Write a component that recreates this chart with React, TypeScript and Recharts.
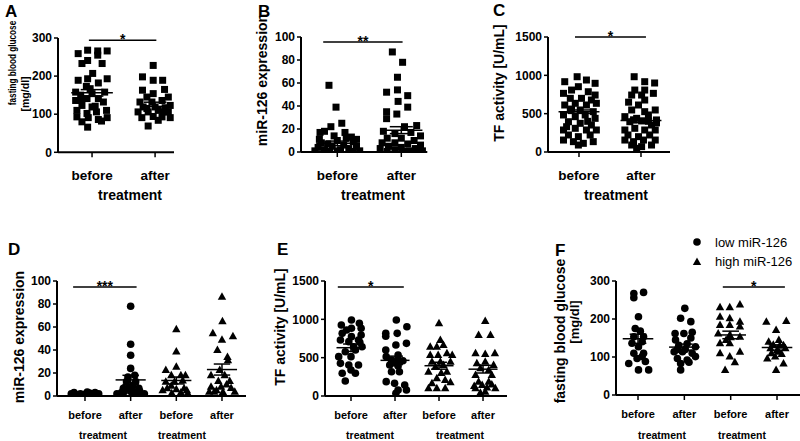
import React from 'react';
import { ScatterChart, Scatter, XAxis, YAxis, ReferenceLine } from 'recharts';

const FONT = '"Liberation Sans", Arial, Helvetica, sans-serif';
const groupLabels = ['before', 'after'];

type Pt = [number, number]; // [horizontal jitter within the group, value]

// A: fasting blood glucose, all patients
const aBefore: Pt[] = [[-0.22,259],[-0.07,268],[0.09,266],[0.09,255],[0.24,266],[-0.16,233],[-0.07,241],[0.16,233],[0.01,207],[-0.22,189],[-0.07,193],[0.24,193],[0.1,182],[-0.09,173],[-0.26,158],[-0.18,150],[0.2,158],[-0.26,136],[0.0,154],[-0.08,141],[0.1,141],[-0.16,123],[0.0,119],[0.18,132],[0.23,110],[-0.24,110],[-0.08,102],[0.07,106],[-0.24,93],[-0.06,91],[0.1,86],[0.24,91],[-0.16,80],[0.15,82],[-0.07,66],[0.05,121],[-0.03,167],[-0.17,136]];
const aAfter: Pt[] = [[-0.03,228],[-0.2,198],[-0.03,189],[0.12,189],[-0.2,163],[0.15,165],[-0.03,154],[-0.13,145],[0.21,145],[-0.24,132],[-0.05,132],[0.11,136],[0.24,123],[-0.19,119],[0.0,119],[0.16,117],[-0.27,106],[-0.11,106],[0.05,110],[0.21,106],[-0.21,91],[-0.03,94],[0.11,93],[0.24,91],[-0.11,69],[0.05,84],[-0.13,115],[0.13,106]];
const aMeans = [156, 126];
const aSems = [8.5, 5.5];

// B: miR-126 expression, all patients
const bBefore: Pt[] = [[-0.13,58],[-0.02,39],[0.07,25],[-0.1,22],[-0.27,17],[-0.2,18],[0.22,13],[0.14,12],[-0.05,14],[0.0,10],[-0.25,8],[0.25,9],[-0.15,7],[0.1,6],[0.3,5],[-0.3,4],[-0.08,5],[0.18,3],[-0.2,2],[0.05,2],[-0.35,1],[0.35,1],[0.0,1],[-0.12,0.5],[0.25,0.5],[-0.28,11],[0.12,17],[0.3,11]];
const bAfter: Pt[] = [[-0.14,87],[0.02,78],[-0.06,65],[-0.23,52],[-0.06,54],[0.1,49],[-0.05,44],[0.1,39],[-0.23,35],[-0.07,33],[-0.23,29],[0.24,23],[0.05,22],[-0.28,18],[0.15,17],[-0.1,16],[0.3,14],[-0.22,12],[0.0,12],[0.2,10],[-0.3,8],[-0.1,8],[0.1,7],[0.3,6],[-0.2,5],[0.0,4],[0.22,3],[-0.33,3],[-0.1,2],[0.12,1],[0.33,1],[-0.22,0.5],[0.02,0.5],[0.25,0.5]];
const bMeans = [7.5, 19];
const bSems = [2, 3];

// C: TF activity, all patients
const cBefore: Pt[] = [[-0.03,982],[0.12,939],[-0.23,917],[0.26,896],[-0.12,808],[-0.01,852],[0.15,786],[-0.25,765],[0.26,743],[-0.14,700],[0.04,700],[0.2,678],[-0.23,613],[-0.06,635],[0.12,613],[0.28,635],[-0.14,548],[0.02,548],[0.23,526],[-0.25,483],[-0.06,461],[0.1,483],[0.26,439],[-0.17,395],[0.02,374],[0.2,352],[-0.25,287],[-0.06,309],[0.12,287],[0.28,287],[-0.17,222],[-0.01,200],[0.18,222],[-0.25,156],[-0.09,135],[0.07,113],[0.23,135],[-0.01,91],[-0.12,560],[0.14,400],[-0.2,330]];
const cAfter: Pt[] = [[-0.11,982],[0.06,917],[-0.1,808],[0.06,808],[0.2,765],[-0.15,743],[0.01,743],[0.06,678],[-0.04,613],[-0.15,548],[0.06,526],[0.23,548],[-0.26,461],[-0.07,439],[0.12,483],[0.25,418],[-0.18,395],[0.01,405],[0.17,352],[-0.26,287],[-0.1,309],[0.06,287],[0.23,287],[-0.21,222],[-0.04,200],[0.14,222],[-0.26,156],[-0.12,135],[0.04,156],[0.23,156],[-0.15,91],[0.01,70],[0.17,91],[-0.07,48],[0.12,400],[-0.12,420],[0.25,380],[-0.2,650],[0.22,900]];
const cMeans = [526, 410];
const cSems = [22, 28];

// D: miR-126 expression, low vs high miR-126
const dBeforeLow: Pt[] = [[-0.24,3],[-0.1,2],[0.0,1.5],[0.1,2.5],[0.22,3],[-0.15,1],[0.15,1.2],[0.05,3.5],[-0.3,2],[0.3,2]];
const dAfterLow: Pt[] = [[0,78],[0,45],[0,35.5],[0,24],[0.09,18],[-0.06,16.5],[-0.09,12.5],[0.11,12.5],[-0.16,6.7],[-0.05,7],[0.18,6.7],[-0.14,3.8],[0.01,3.8],[0.2,4],[-0.2,3],[0.11,3],[-0.3,2],[0.3,2],[0.05,9]];
const dBeforeHigh: Pt[] = [[0,58],[0,38.6],[0,25.5],[-0.23,22.6],[-0.11,18],[0.1,18],[0.2,18],[-0.23,12.4],[-0.04,12.4],[0.14,13.5],[-0.2,6.7],[0,5.8],[0.17,6.7],[-0.3,5],[0.23,5],[-0.11,9],[0.1,3],[-0.1,2.5],[0.25,2.5]];
const dAfterHigh: Pt[] = [[0,86.4],[0.01,65],[-0.2,54.5],[0,49],[0.24,52],[-0.1,40],[0.12,34],[0.13,31],[-0.05,22.6],[-0.24,18],[0.06,18],[-0.08,13],[0.17,13],[-0.24,8],[-0.02,8],[0.2,7],[-0.17,3.8],[0.02,3.5],[0.28,3.8],[-0.28,3.8],[0.1,10],[-0.12,5]];
const dMeans = [2.3, 14, 13.5, 23];
const dSems = [0.3, 4, 3, 4.8];

// E: TF activity, low vs high miR-126
const eBeforeLow: Pt[] = [[-0.22,926],[0.01,991],[0.19,948],[0.01,883],[0.23,883],[-0.2,817],[0.01,774],[0.23,795],[-0.24,730],[-0.05,709],[0.17,730],[0.06,643],[0.25,643],[-0.13,578],[0.1,600],[-0.28,513],[0.0,513],[-0.24,426],[-0.05,404],[0.17,404],[-0.2,296],[0.1,296],[0.0,340],[-0.13,196],[0.2,700],[-0.1,860]];
const eAfterLow: Pt[] = [[0.03,991],[-0.21,817],[0.05,817],[0.27,904],[-0.21,780],[0.26,687],[0.02,665],[-0.21,600],[0.07,535],[-0.2,513],[0.07,470],[-0.08,470],[0.18,460],[-0.12,404],[0.07,390],[-0.08,317],[0.1,317],[-0.2,187],[-0.01,165],[0.22,143],[0.07,78],[0.26,78],[0.02,35],[0.0,430]];
const eBeforeHigh: Pt[] = [[0,948],[0.03,730],[-0.2,643],[-0.05,643],[0.1,665],[0.18,557],[-0.2,535],[-0.02,535],[0.3,535],[-0.16,448],[0.03,448],[0.26,448],[-0.08,383],[0.1,404],[-0.24,317],[0.18,317],[-0.05,230],[0.14,210],[-0.16,165],[0.26,180],[-0.24,100],[-0.05,100],[0.14,100],[0.05,300]];
const eAfterHigh: Pt[] = [[0.05,978],[-0.1,795],[0.17,795],[-0.17,557],[0.05,548],[0.27,557],[-0.14,426],[0.05,448],[0.24,404],[-0.06,361],[0.13,340],[-0.17,274],[0.2,274],[-0.1,187],[0.13,187],[-0.02,143],[0.09,110],[-0.17,100],[0.28,100],[0.05,56],[-0.06,43],[0.2,150],[-0.2,130]];
const eMeans = [630, 465, 395, 350];
const eSems = [48, 55, 45, 50];

// F: fasting blood glucose, low vs high miR-126
const fBeforeLow: Pt[] = [[-0.09,267],[0.12,270],[-0.09,256],[0.01,206],[-0.06,175],[0.05,168],[-0.09,153],[0.12,153],[-0.13,136],[0.09,140],[0.01,127],[-0.09,110],[0.12,110],[0.09,101],[-0.02,96],[-0.2,83],[0.16,88],[0.01,66],[0.23,66]];
const fAfterLow: Pt[] = [[0.01,228],[-0.08,202],[0.14,193],[-0.2,162],[-0.01,162],[0.17,165],[-0.19,145],[0.14,150],[-0.12,131],[0.06,135],[0.24,127],[-0.22,114],[-0.04,114],[0.17,110],[-0.15,96],[0.06,92],[0.24,101],[-0.08,83],[0.1,86],[-0.08,66],[0.02,120],[-0.15,120]];
const fBeforeHigh: Pt[] = [[-0.23,231],[-0.02,231],[0.2,238],[-0.23,206],[-0.02,202],[0.2,193],[-0.23,184],[-0.02,184],[0.2,180],[-0.27,162],[-0.02,158],[0.2,153],[-0.23,136],[-0.02,136],[-0.23,110],[0.2,114],[-0.02,101],[0.09,86],[-0.12,66],[0.0,152],[-0.1,145]];
const fAfterHigh: Pt[] = [[-0.23,193],[0.2,195],[-0.02,171],[-0.18,140],[0.04,145],[0.14,131],[-0.14,123],[0.0,118],[0.18,123],[-0.21,96],[-0.04,101],[0.04,114],[0.14,83],[-0.02,66],[0.06,130],[-0.08,132],[0.1,108],[-0.12,110]];
const fMeans = [148, 126, 158, 125];
const fSems = [12, 8, 10, 7];

const toPoints = (pts: Pt[], pos: number) => pts.map(([dx, v]) => ({ x: pos + dx, y: v }));

const Square = (p: any) => <rect x={p.cx - 3.5} y={p.cy - 3.5} width={7} height={7} fill="#000" />;
const Dot = (p: any) => <circle cx={p.cx} cy={p.cy} r={3.8} fill="#000" />;
const Tri = (p: any) => (
  <polygon points={`${p.cx},${p.cy - 4.5} ${p.cx + 4.2},${p.cy + 3} ${p.cx - 4.2},${p.cy + 3}`} fill="#000" />
);

function SigLabel({ viewBox, text }: any) {
  const { x, y, width } = viewBox;
  return (
    <text x={x + width / 2} y={y + 4} textAnchor="middle" fontSize={14} fontWeight="bold" fontFamily={FONT} fill="#000">
      {text}
    </text>
  );
}

interface PanelProps {
  box: [number, number, number, number]; // plot left, right, top, bottom in page px
  xDomain: [number, number];
  yDomain: [number, number];
  yTicks: number[];
  groups: { pts: Pt[]; shape: any }[];
  means: number[];
  sems: number[];
  sig: { from: number; to: number; y: number; text: string };
  xFont: number;
  xMargin: number;
}

function Panel({ box, xDomain, yDomain, yTicks, groups, means, sems, sig, xFont, xMargin }: PanelProps) {
  const [x0, x1, y0, y1] = box;
  const ML = 50, MT = 25, MR = 12, XH = 32;
  const ticks = groups.map((_, i) => i + 1);
  const seg = (xa: number, xb: number, ya: number, yb: number) => [{ x: xa, y: ya }, { x: xb, y: yb }];
  return (
    <div style={{ position: 'absolute', left: x0 - ML, top: y0 - MT }}>
      <ScatterChart
        width={x1 - x0 + ML + MR}
        height={y1 - y0 + MT + XH}
        margin={{ top: MT, right: MR, bottom: 0, left: ML - 40 }}
      >
        <XAxis
          type="number"
          dataKey="x"
          domain={xDomain}
          ticks={ticks}
          interval={0}
          allowDataOverflow
          height={XH}
          tickFormatter={(v) => groupLabels[(v - 1) % 2]}
          axisLine={{ stroke: '#000', strokeWidth: 2 }}
          tickLine={{ stroke: '#000', strokeWidth: 1.5 }}
          tickSize={5}
          tickMargin={xMargin}
          tick={{ fill: '#000', fontSize: xFont, fontWeight: 'bold', fontFamily: FONT }}
        />
        <YAxis
          type="number"
          dataKey="y"
          domain={yDomain}
          ticks={yTicks}
          interval={0}
          allowDataOverflow
          width={40}
          axisLine={{ stroke: '#000', strokeWidth: 2 }}
          tickLine={{ stroke: '#000', strokeWidth: 1.5 }}
          tickSize={4}
          tickMargin={2}
          tick={{ fill: '#000', fontSize: 12, fontWeight: 'bold', fontFamily: FONT }}
        />
        {groups.map((g, i) => (
          <Scatter key={i} data={toPoints(g.pts, i + 1)} shape={g.shape} isAnimationActive={false} />
        ))}
        {means.map((m, i) => {
          const c = i + 1;
          const s = sems[i];
          return [
            <ReferenceLine key={`m${i}`} segment={seg(c - 0.33, c + 0.33, m, m)} stroke="#000" strokeWidth={1.5} />,
            <ReferenceLine key={`u${i}`} segment={seg(c - 0.18, c + 0.18, m + s, m + s)} stroke="#000" strokeWidth={1.5} />,
            <ReferenceLine key={`l${i}`} segment={seg(c - 0.18, c + 0.18, m - s, m - s)} stroke="#000" strokeWidth={1.5} />,
            <ReferenceLine key={`v${i}`} segment={seg(c, c, m - s, m + s)} stroke="#000" strokeWidth={1.5} />,
          ];
        })}
        <ReferenceLine
          segment={seg(sig.from, sig.to, sig.y, sig.y)}
          stroke="#000"
          strokeWidth={1.5}
          label={<SigLabel text={sig.text} />}
        />
      </ScatterChart>
    </div>
  );
}

const bold = { fontFamily: FONT, fontWeight: 'bold' as const, fill: '#000' };

// rotated axis title; squeeze < 1 condenses it along its length
function YTitle({ x, y, size, text, squeeze = 1 }: { x: number; y: number; size: number; text: string; squeeze?: number }) {
  return (
    <text {...bold} fontSize={size} textAnchor="middle" transform={`translate(${x},${y}) rotate(-90) scale(${squeeze},1)`}>
      {text}
    </text>
  );
}

export default function App() {
  return (
    <div style={{ position: 'absolute', left: 0, top: 0, width: 800, height: 441, overflow: 'hidden', background: '#fff' }}>
      <svg width={800} height={441} style={{ position: 'absolute', left: 0, top: 0 }}>
        {/* panel letters */}
        <text {...bold} fontSize={17} x={5} y={17}>A</text>
        <text {...bold} fontSize={17} x={258} y={17}>B</text>
        <text {...bold} fontSize={17} x={493} y={16}>C</text>
        <text {...bold} fontSize={17} x={8} y={255}>D</text>
        <text {...bold} fontSize={17} x={277} y={255}>E</text>
        <text {...bold} fontSize={17} x={555} y={256}>F</text>

        {/* y titles */}
        <YTitle x={16} y={63} size={11.5} squeeze={0.71} text="fasting blood glucose" />
        <YTitle x={29} y={94} size={11.5} squeeze={0.92} text="[mg/dl]" />
        <YTitle x={267} y={80} size={14} text="miR-126 expression" />
        <YTitle x={504} y={83} size={14} text="TF activity [U/mL]" />
        <YTitle x={24} y={337} size={14} text="miR-126 expression" />
        <YTitle x={285} y={327} size={14} text="TF activity [U/mL]" />
        <YTitle x={565} y={331} size={14} text="fasting blood glucose" />
        <YTitle x={579} y={322} size={13} text="[mg/dl]" />

        {/* x titles */}
        <text {...bold} fontSize={14} textAnchor="middle" x={130} y={200}>treatment</text>
        <text {...bold} fontSize={14} textAnchor="middle" x={373} y={200}>treatment</text>
        <text {...bold} fontSize={14} textAnchor="middle" x={616} y={200}>treatment</text>
        <text {...bold} fontSize={10.5} textAnchor="middle" x={103} y={439}>treatment</text>
        <text {...bold} fontSize={10.5} textAnchor="middle" x={182} y={439}>treatment</text>
        <text {...bold} fontSize={10.5} textAnchor="middle" x={370} y={439}>treatment</text>
        <text {...bold} fontSize={10.5} textAnchor="middle" x={460} y={439}>treatment</text>
        <text {...bold} fontSize={10.5} textAnchor="middle" x={662} y={439}>treatment</text>
        <text {...bold} fontSize={10.5} textAnchor="middle" x={742} y={439}>treatment</text>

        {/* legend for D-F */}
        <circle cx={697} cy={242} r={3.8} fill="#000" />
        <text fontFamily={FONT} fontSize={13} x={715} y={247} fill="#000">low miR-126</text>
        <polygon points="697,257.5 701.2,265 692.8,265" fill="#000" />
        <text fontFamily={FONT} fontSize={13} x={715} y={266} fill="#000">high miR-126</text>
      </svg>

      <Panel
        box={[58, 174, 37.7, 152]}
        xDomain={[0.46, 2.3]}
        yDomain={[0, 300]}
        yTicks={[0, 100, 200, 300]}
        groups={[{ pts: aBefore, shape: Square }, { pts: aAfter, shape: Square }]}
        means={aMeans}
        sems={aSems}
        sig={{ from: 0.95, to: 2.02, y: 294, text: '*' }}
        xFont={13.5}
        xMargin={13}
      />
      <Panel
        box={[300.7, 427, 37, 152]}
        xDomain={[0.433, 2.406]}
        yDomain={[0, 100]}
        yTicks={[0, 20, 40, 60, 80, 100]}
        groups={[{ pts: bBefore, shape: Square }, { pts: bAfter, shape: Square }]}
        means={bMeans}
        sems={bSems}
        sig={{ from: 0.78, to: 2.02, y: 95.7, text: '**' }}
        xFont={13.5}
        xMargin={13}
      />
      <Panel
        box={[548, 670, 37, 152]}
        xDomain={[0.5, 2.468]}
        yDomain={[0, 1500]}
        yTicks={[0, 500, 1000, 1500]}
        groups={[{ pts: cBefore, shape: Square }, { pts: cAfter, shape: Square }]}
        means={cMeans}
        sems={cSems}
        sig={{ from: 0.935, to: 2.08, y: 1500, text: '*' }}
        xFont={13.5}
        xMargin={13}
      />
      <Panel
        box={[57, 246, 281, 396]}
        xDomain={[0.387, 4.526]}
        yDomain={[0, 100]}
        yTicks={[0, 20, 40, 60, 80, 100]}
        groups={[
          { pts: dBeforeLow, shape: Dot },
          { pts: dAfterLow, shape: Dot },
          { pts: dBeforeHigh, shape: Tri },
          { pts: dAfterHigh, shape: Tri },
        ]}
        means={dMeans}
        sems={dSems}
        sig={{ from: 0.74, to: 2.13, y: 94.8, text: '***' }}
        xFont={11}
        xMargin={10}
      />
      <Panel
        box={[325, 507, 281, 396]}
        xDomain={[0.409, 4.545]}
        yDomain={[0, 1500]}
        yTicks={[0, 500, 1000, 1500]}
        groups={[
          { pts: eBeforeLow, shape: Dot },
          { pts: eAfterLow, shape: Dot },
          { pts: eBeforeHigh, shape: Tri },
          { pts: eAfterHigh, shape: Tri },
        ]}
        means={eMeans}
        sems={eSems}
        sig={{ from: 0.7, to: 2.2, y: 1421, text: '*' }}
        xFont={11}
        xMargin={10}
      />
      <Panel
        box={[616, 800, 281, 395]}
        xDomain={[0.525, 4.496]}
        yDomain={[0, 300]}
        yTicks={[0, 100, 200, 300]}
        groups={[
          { pts: fBeforeLow, shape: Dot },
          { pts: fAfterLow, shape: Dot },
          { pts: fBeforeHigh, shape: Tri },
          { pts: fAfterHigh, shape: Tri },
        ]}
        means={fMeans}
        sems={fSems}
        sig={{ from: 2.83, to: 4.17, y: 284, text: '*' }}
        xFont={11}
        xMargin={10}
      />
    </div>
  );
}
